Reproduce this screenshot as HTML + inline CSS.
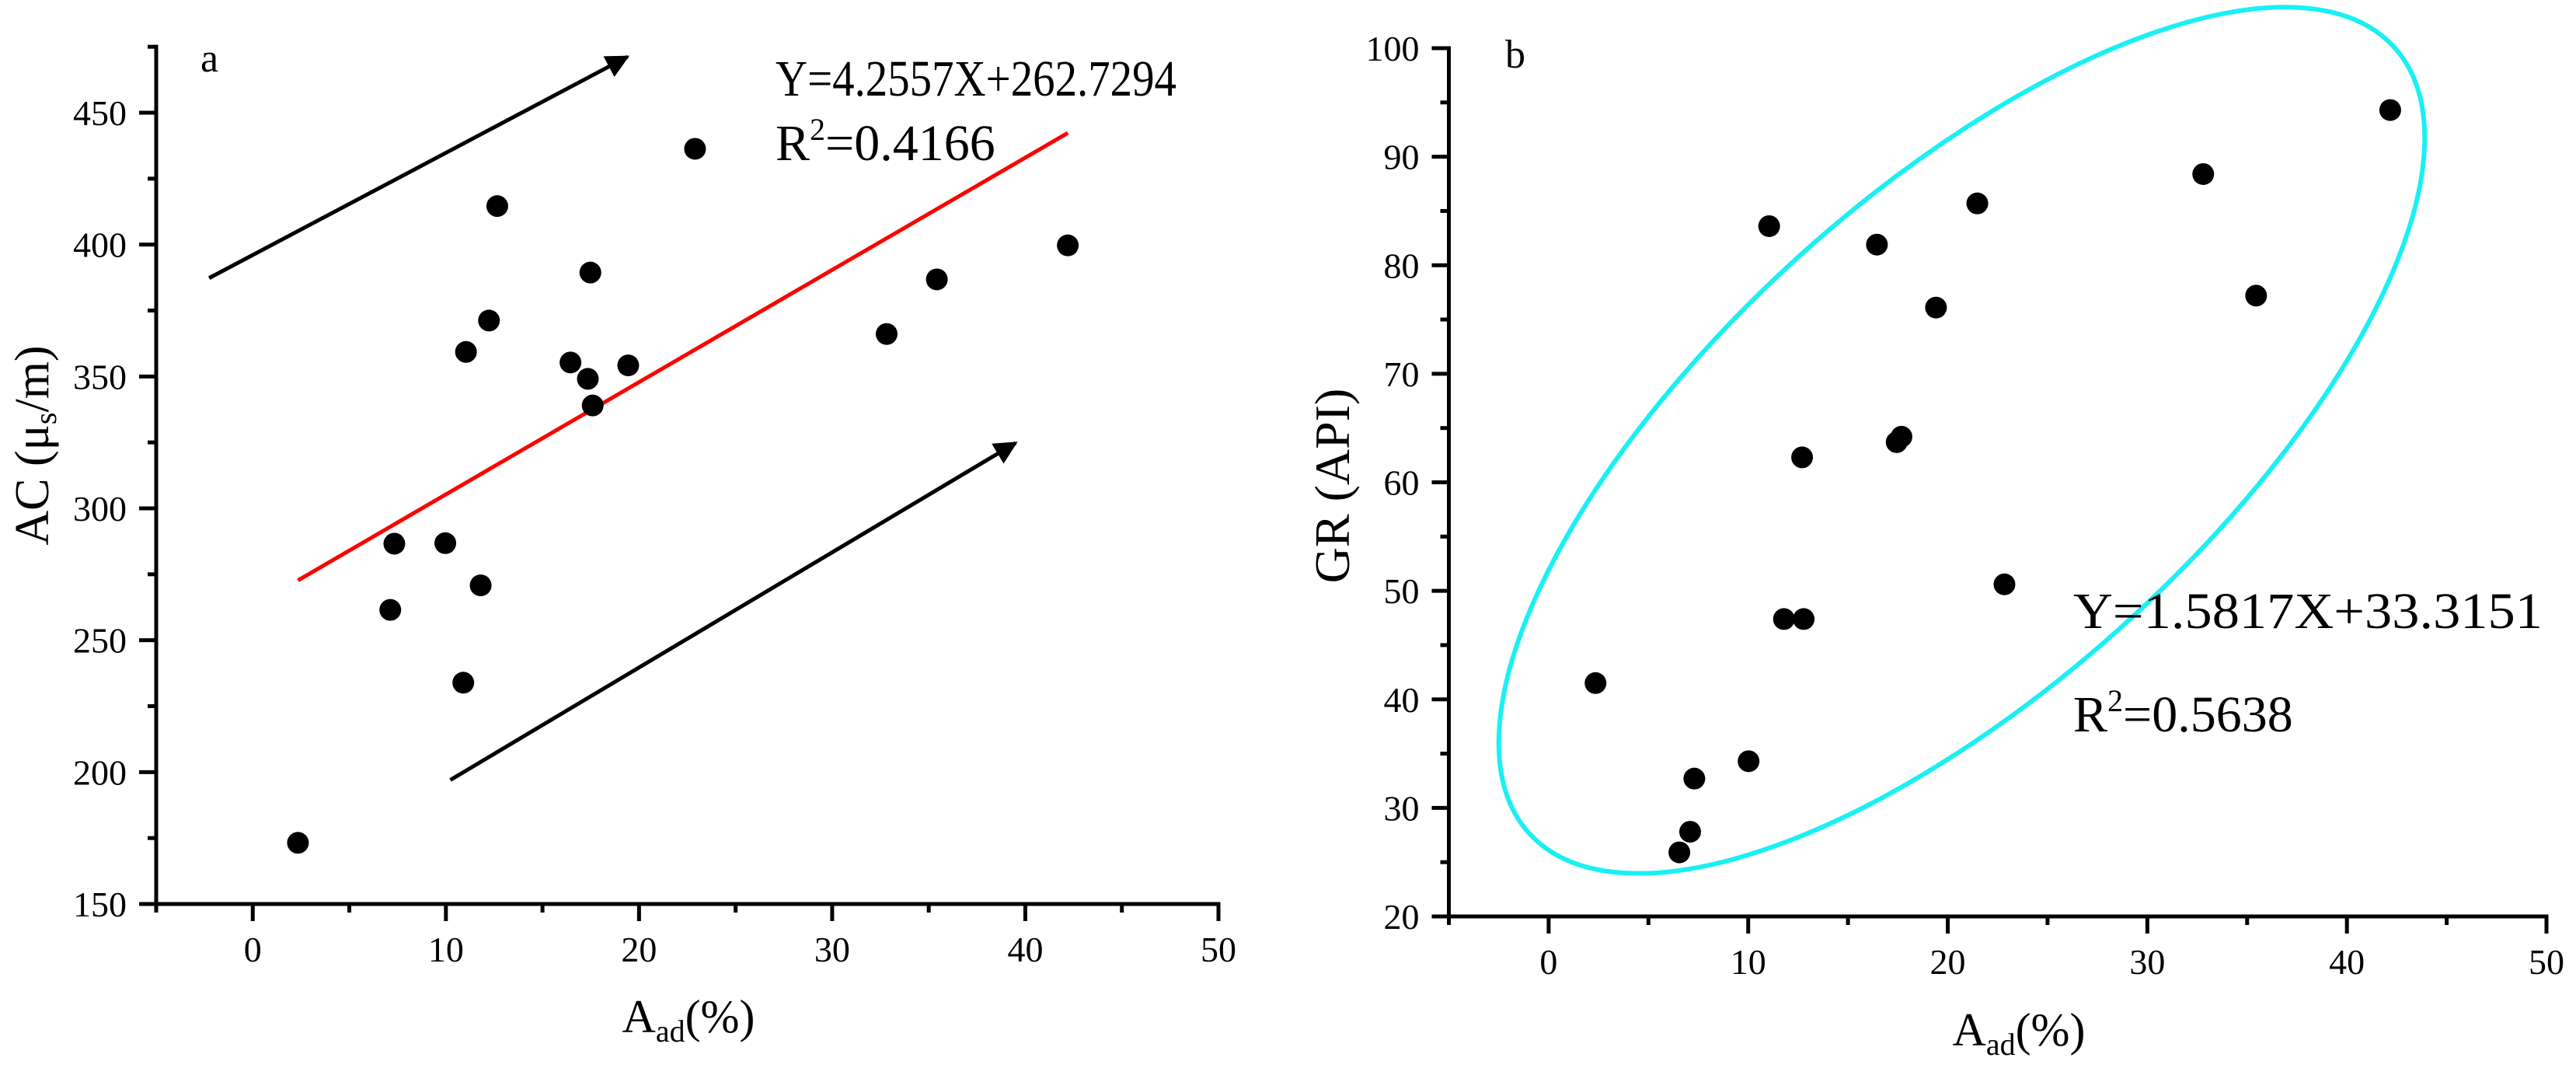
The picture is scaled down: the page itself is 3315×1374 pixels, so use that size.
<!DOCTYPE html>
<html><head><meta charset="utf-8"><style>
html,body{margin:0;padding:0;background:#fff;}
svg{display:block;font-family:"Liberation Serif",serif;}
</style></head><body>
<svg id="fig" width="3315" height="1374" viewBox="0 0 3315 1374">
<g id="chartA"></g>
<g id="chartB"></g>
</svg>
<script>
const NS="http://www.w3.org/2000/svg";
// Chart a data
const aX=[2.34,7.12,7.33,9.97,11.8,10.9,11.04,12.23,12.66,16.45,17.35,17.48,17.6,19.44,22.9,32.82,35.42,42.2];
const aY=[173.2,261.5,286.6,286.8,270.8,233.9,359.3,371.2,414.6,355.3,349.1,389.4,339.0,354.2,436.3,366.1,386.8,399.7];
const aFitX=[2.34,42.2];
const aSlope=4.2557, aIntercept=262.7294;
const aArrowStart=[[-2.26,387.3],[10.23,197]];
const aArrowEnd=[[19.4,471.2],[39.5,324.8]];
const aXTicks=[0,10,20,30,40,50];
const aYTicks=[150,200,250,300,350,400,450];
// Chart b data
const bX=[2.35,6.55,7.09,7.3,10.02,11.05,11.79,12.78,12.7,16.45,17.44,17.68,19.41,21.48,22.84,32.8,35.45,42.17];
const bY=[41.5,25.9,27.8,32.7,34.3,83.6,47.4,47.4,62.3,81.9,63.7,64.2,76.1,85.7,50.6,88.4,77.2,94.3];
const bXTicks=[0,10,20,30,40,50];
const bYTicks=[20,30,40,50,60,70,80,90,100];
const bEllipseCenter=[20.7,63.87];

function el(parent,tag,attrs,text){const e=document.createElementNS(NS,tag);for(const k in attrs)e.setAttribute(k,attrs[k]);if(text!==undefined)e.textContent=text;parent.appendChild(e);return e;}

function axes(g,o){
  const sx=v=>o.px0+(v-o.xmin)*(o.px1-o.px0)/(o.xmax-o.xmin);
  const sy=v=>o.py0-(v-o.ymin)*(o.py0-o.py1)/(o.ymax-o.ymin);
  const ax=el(g,'g',{});
  
  
  const xl=el(ax,'line',{x1:o.px0,y1:sy(o.ymin),x2:sx(o.xmax),y2:sy(o.ymin),stroke:'#000','stroke-width':5,'stroke-linecap':'square'});
  
  const yl=el(ax,'line',{x1:o.px0,y1:sy(o.ymin),x2:o.px0,y2:sy(o.ytop),stroke:'#000','stroke-width':5,'stroke-linecap':'square'});
  
  for(let v=o.xmin;v<=o.xmax+1e-9;v+=5){const maj=(v%10===0);el(ax,'line',{x1:sx(v),y1:sy(o.ymin),x2:sx(v),y2:sy(o.ymin)+(maj?22:11),stroke:'#000','stroke-width':5});}
  o.xTicks.forEach(v=>{const t=el(ax,'text',{x:sx(v),y:sy(o.ymin)+74,'font-size':46,'text-anchor':'middle'},String(v));});
  for(let v=o.ymin;v<=o.ytop+1e-9;v+=o.yminor){const maj=(Math.abs((v-o.ymin)%(o.yminor*2))<1e-6);el(ax,'line',{x1:o.px0,y1:sy(v),x2:o.px0-(maj?22:11),y2:sy(v),stroke:'#000','stroke-width':5});}
  o.yTicks.forEach(v=>{const t=el(ax,'text',{x:o.px0-38,y:sy(v)+16,'font-size':46,'text-anchor':'end'},String(v));});
  return {sx,sy};
}

function dots(g,xs,ys,sx,sy){
  xs.forEach((x,i)=>{const c=el(g,'circle',{cx:sx(x),cy:sy(ys[i]),r:14,fill:'#000'});
    
    });
}

// ---------- Chart a
const gA=document.getElementById('chartA');
const A=axes(gA,{px0:201,px1:1568,xmin:-5,xmax:50,py0:1163,py1:145,ymin:150,ymax:450,ytop:475,yminor:25,xTicks:aXTicks,yTicks:aYTicks});
const defs=el(document.getElementById('fig'),'defs',{});
const mk=el(defs,'marker',{id:'ah',viewBox:'0 0 10 10',refX:9,refY:5,markerWidth:8,markerHeight:6,orient:'auto',markerUnits:'strokeWidth'});
el(mk,'path',{d:'M0,0 L10,5 L0,10 z',fill:'#000'});
aArrowStart.forEach((s,i)=>{const e=aArrowEnd[i];const l=el(gA,'line',{x1:A.sx(s[0]),y1:A.sy(s[1]),x2:A.sx(e[0]),y2:A.sy(e[1]),stroke:'#000','stroke-width':5,'marker-end':'url(#ah)'});
  
  });
const fit=el(gA,'line',{x1:A.sx(aFitX[0]),y1:A.sy(aSlope*aFitX[0]+aIntercept),x2:A.sx(aFitX[1]),y2:A.sy(aSlope*aFitX[1]+aIntercept),stroke:'#ff0000','stroke-width':5});


dots(gA,aX,aY,A.sx,A.sy);
</script>
<script>
(function(){
const g=document.getElementById('chartA');
g.insertAdjacentHTML('beforeend',
'<text x="258" y="92" font-size="52">a</text>'+
'<text x="998" y="123" font-size="66" textLength="516" lengthAdjust="spacingAndGlyphs">Y=4.2557X+262.7294</text>'+
'<text x="998" y="206" font-size="66">R<tspan dy="-26" font-size="40">2</tspan><tspan dy="26">=0.4166</tspan></text>'+
'<text transform="translate(62,573) rotate(-90)" font-size="62" text-anchor="middle">AC (μ<tspan dy="10" font-size="40">s</tspan><tspan dy="-10">/m)</tspan></text>'+
'<text x="886" y="1328" font-size="60" text-anchor="middle">A<tspan dy="12" font-size="40">ad</tspan><tspan dy="-12">(%)</tspan></text>');
})();
</script>
<script>
// ---------- Chart b
const gB=document.getElementById('chartB');
const B=axes(gB,{px0:1864.5,px1:3277,xmin:-5,xmax:50,py0:1179,py1:62,ymin:20,ymax:100,ytop:100,yminor:5,xTicks:bXTicks,yTicks:bYTicks});
const ecx=B.sx(bEllipseCenter[0]), ecy=B.sy(bEllipseCenter[1]);
const ell=el(gB,'ellipse',{cx:ecx,cy:ecy,rx:752,ry:316,transform:`rotate(-42.26 ${ecx} ${ecy})`,fill:'none',stroke:'#1af0f4','stroke-width':6});


dots(gB,bX,bY,B.sx,B.sy);
gB.insertAdjacentHTML('beforeend',
'<text x="1937" y="87" font-size="52">b</text>'+
'<text x="2668" y="808" font-size="66" textLength="604" lengthAdjust="spacingAndGlyphs">Y=1.5817X+33.3151</text>'+
'<text x="2668" y="941" font-size="66">R<tspan dy="-26" font-size="40">2</tspan><tspan dy="26">=0.5638</tspan></text>'+
'<text transform="translate(1736,625) rotate(-90)" font-size="64" text-anchor="middle">GR (API)</text>'+
'<text x="2598" y="1345" font-size="60" text-anchor="middle">A<tspan dy="12" font-size="40">ad</tspan><tspan dy="-12">(%)</tspan></text>');
</script>
</body></html>
